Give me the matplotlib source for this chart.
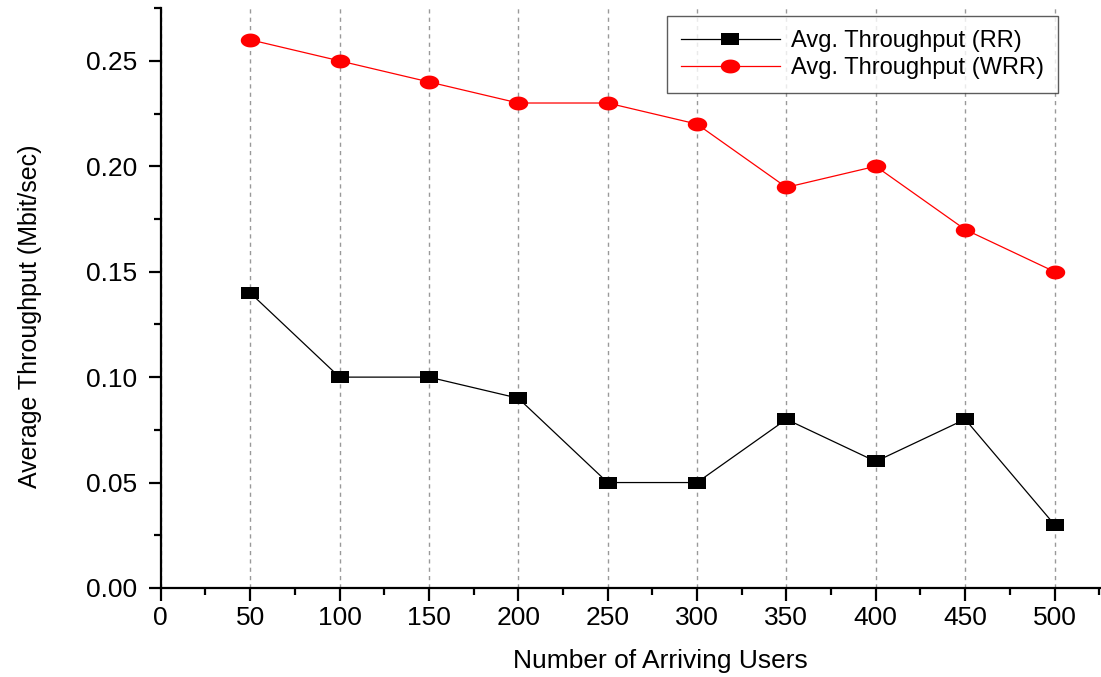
import numpy as np
import matplotlib
matplotlib.use("Agg")
import matplotlib.pyplot as plt
from matplotlib.path import Path
from matplotlib.ticker import MultipleLocator, FormatStrFormatter

plt.rcParams['font.family'] = ['Liberation Sans', 'DejaVu Sans']

users = [50, 100, 150, 200, 250, 300, 350, 400, 450, 500]
rr_throughput = [0.14, 0.10, 0.10, 0.09, 0.05, 0.05, 0.08, 0.06, 0.08, 0.03]
wrr_throughput = [0.26, 0.25, 0.24, 0.23, 0.23, 0.22, 0.19, 0.20, 0.17, 0.15]

# slightly wide markers (square and ellipse)
wide_square = Path([(-0.7, -0.5), (0.7, -0.5), (0.7, 0.5), (-0.7, 0.5), (-0.7, -0.5)],
                   [Path.MOVETO, Path.LINETO, Path.LINETO, Path.LINETO, Path.CLOSEPOLY])
t = np.linspace(0, 2 * np.pi, 60)
wide_circle = Path(np.column_stack([0.7 * np.cos(t), 0.5 * np.sin(t)]), closed=True)

fig = plt.figure(figsize=(11.01, 6.77), dpi=100)
ax = fig.add_axes([0.146, 0.1315, 0.854, 0.8565])

ax.plot(users, rr_throughput, color='black', lw=0.9, marker=wide_square,
        markersize=12.5, markeredgewidth=0, label='Avg. Throughput (RR)')
ax.plot(users, wrr_throughput, color='red', lw=0.9, marker=wide_circle,
        markersize=14, markeredgewidth=0, label='Avg. Throughput (WRR)')

ax.set_xlim(0, 526)
ax.set_ylim(0, 0.275)
ax.xaxis.set_major_locator(MultipleLocator(50))
ax.xaxis.set_minor_locator(MultipleLocator(25))
ax.yaxis.set_major_locator(MultipleLocator(0.05))
ax.yaxis.set_minor_locator(MultipleLocator(0.025))
ax.yaxis.set_major_formatter(FormatStrFormatter('%.2f'))

ax.grid(axis='x', which='major', color='#999999', linestyle=(0, (3, 3)), lw=1)
ax.set_axisbelow(True)

for side in ['top', 'right']:
    ax.spines[side].set_visible(False)
for side in ['left', 'bottom']:
    ax.spines[side].set_linewidth(1.6)

ax.tick_params(which='major', direction='out', length=9, width=1.6, labelsize=19)
ax.tick_params(which='minor', direction='out', length=5, width=1.6)
ax.tick_params(axis='y', which='major', pad=8)
ax.tick_params(axis='x', which='major', pad=4)

ax.set_xlabel('Number of Arriving Users', fontsize=19)
ax.set_ylabel('Average Throughput (Mbit/sec)', fontsize=18)
ax.xaxis.set_label_coords(0.531, -0.105)
ax.yaxis.set_label_coords(-0.126, 0.468)

leg = ax.legend(loc='upper right', bbox_to_anchor=(0.954, 0.986), fontsize=17,
                frameon=True, fancybox=False, edgecolor='#333333',
                handlelength=4.2, handletextpad=0.45, borderpad=0.6,
                labelspacing=0.2, borderaxespad=0)
leg.get_frame().set_linewidth(1.0)

fig.savefig('out.png', dpi=100)
